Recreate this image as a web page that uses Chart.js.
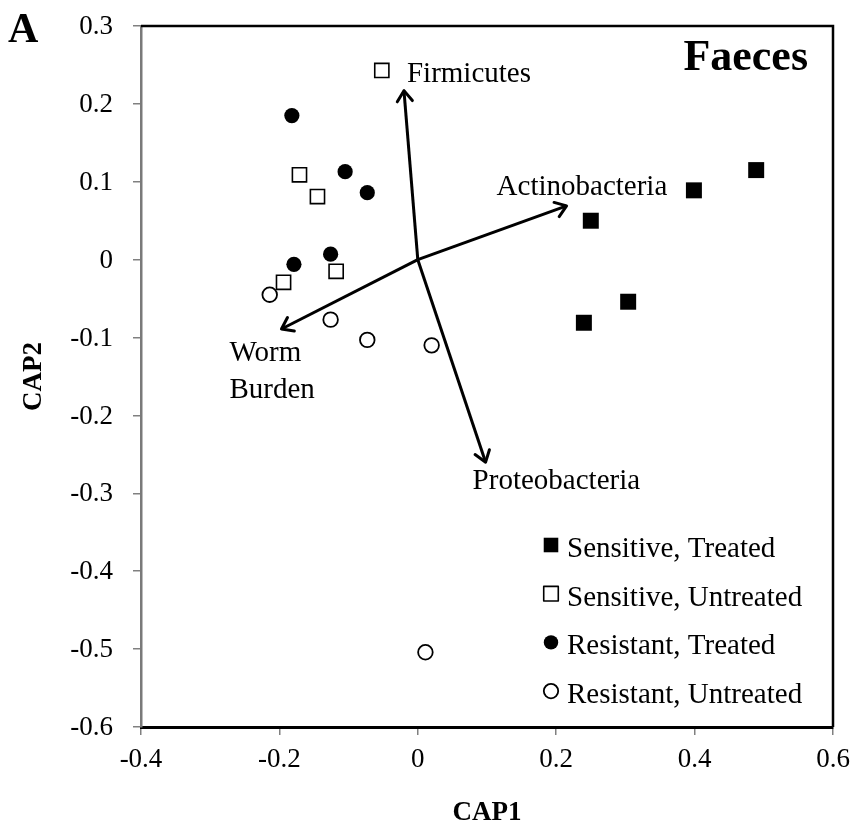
<!DOCTYPE html>
<html><head><meta charset="utf-8">
<script src="https://cdn.jsdelivr.net/npm/chart.js@4.4.1/dist/chart.umd.min.js"></script>
<style>html,body{margin:0;padding:0;background:#fff}#wrap{width:852px;height:827px}</style>
</head><body><div id="wrap"><canvas id="c" width="852" height="827"></canvas></div>
<script>
// ---- data ----
const xTicks = [-0.4, -0.2, 0, 0.2, 0.4, 0.6];
const xTickLabels = ['-0.4', '-0.2', '0', '0.2', '0.4', '0.6'];
const yTicks = [-0.6, -0.5, -0.4, -0.3, -0.2, -0.1, 0, 0.1, 0.2, 0.3];
const yTickLabels = ['-0.6', '-0.5', '-0.4', '-0.3', '-0.2', '-0.1', '0', '0.1', '0.2', '0.3'];
const groupNames = ['Sensitive, Treated', 'Sensitive, Untreated', 'Resistant, Treated', 'Resistant, Untreated'];

const sensTreatedX = [0.250, 0.399, 0.489, 0.304, 0.240];
const sensTreatedY = [0.050, 0.089, 0.115, -0.054, -0.081];
const sensUntreatedX = [-0.052, -0.171, -0.145, -0.118, -0.194];
const sensUntreatedY = [0.243, 0.109, 0.081, -0.015, -0.029];
const resTreatedX = [-0.182, -0.105, -0.073, -0.126, -0.179];
const resTreatedY = [0.185, 0.113, 0.086, 0.007, -0.006];
const resUntreatedX = [-0.214, -0.126, -0.073, 0.020, 0.011];
const resUntreatedY = [-0.045, -0.077, -0.103, -0.110, -0.504];

const arrowNames = ['Firmicutes', 'Actinobacteria', 'Worm Burden', 'Proteobacteria'];
const arrowTipX = [-0.020, 0.215, -0.197, 0.098];
const arrowTipY = [0.217, 0.069, -0.089, -0.260];

const panelLetter = 'A';
const panelTitle = 'Faeces';
const xTitle = 'CAP1';
const yTitle = 'CAP2';

// ---- build ----
const zip = (xs, ys) => xs.map((x, i) => ({x, y: ys[i]}));
const FONT = "'Liberation Serif', 'Times New Roman', serif";

const groupStyles = [
  {pointStyle: 'rect', radius: 11.3, bg: '#000', border: '#000', bw: 0},
  {pointStyle: 'rect', radius: 10.0, bg: '#fff', border: '#000', bw: 1.6},
  {pointStyle: 'circle', radius: 7.6, bg: '#000', border: '#000', bw: 0},
  {pointStyle: 'circle', radius: 7.3, bg: '#fff', border: '#000', bw: 1.8}
];
const groupData = [
  zip(sensTreatedX, sensTreatedY),
  zip(sensUntreatedX, sensUntreatedY),
  zip(resTreatedX, resTreatedY),
  zip(resUntreatedX, resUntreatedY)
];

const datasets = [];
arrowNames.forEach((name, i) => {
  datasets.push({
    type: 'line', label: name, isArrow: true,
    data: [{x: 0, y: 0}, {x: arrowTipX[i], y: arrowTipY[i]}],
    showLine: true, borderColor: '#000', borderWidth: 3, pointRadius: 0,
    fill: false, tension: 0, order: 2
  });
});
groupNames.forEach((name, i) => {
  const s = groupStyles[i];
  datasets.push({
    type: 'scatter', label: name, data: groupData[i],
    pointStyle: s.pointStyle, pointRadius: s.radius, pointHoverRadius: s.radius,
    backgroundColor: s.bg, borderColor: s.border, borderWidth: s.bw, order: 1
  });
});

const arrowLabelOffsets = [
  [{dx: 3, dy: -9}],
  [{dx: -70, dy: -11}],
  [{dx: -52, dy: 32}, {dx: -52, dy: 69}],
  [{dx: -13, dy: 27}]
];

const decor = {
  id: 'decor',
  afterDatasetsDraw(chart) {
    const {ctx, chartArea: ca, scales: {x, y}} = chart;
    ctx.save();
    // top & right frame
    ctx.strokeStyle = '#000';
    ctx.lineWidth = 2.5;
    ctx.beginPath();
    ctx.moveTo(ca.left, ca.top);
    ctx.lineTo(ca.right, ca.top);
    ctx.lineTo(ca.right, ca.bottom);
    ctx.stroke();

    // arrow heads + labels
    ctx.lineWidth = 3;
    ctx.lineCap = 'round';
    ctx.lineJoin = 'round';
    ctx.fillStyle = '#000';
    ctx.font = '29px ' + FONT;
    ctx.textBaseline = 'alphabetic';
    ctx.textAlign = 'left';
    arrowNames.forEach((name, i) => {
      const x0 = x.getPixelForValue(0), y0 = y.getPixelForValue(0);
      const x1 = x.getPixelForValue(arrowTipX[i]), y1 = y.getPixelForValue(arrowTipY[i]);
      const ang = Math.atan2(y1 - y0, x1 - x0);
      const L = 13, a = 0.62;
      ctx.beginPath();
      ctx.moveTo(x1 - L * Math.cos(ang - a), y1 - L * Math.sin(ang - a));
      ctx.lineTo(x1, y1);
      ctx.lineTo(x1 - L * Math.cos(ang + a), y1 - L * Math.sin(ang + a));
      ctx.stroke();
      const parts = name === 'Worm Burden' ? ['Worm', 'Burden'] : [name];
      parts.forEach((t, k) => {
        const o = arrowLabelOffsets[i][k];
        ctx.fillText(t, x1 + o.dx, y1 + o.dy);
      });
    });

    // panel title
    ctx.font = 'bold 44px ' + FONT;
    ctx.textAlign = 'right';
    ctx.fillText(panelTitle, ca.right - 25, ca.top + 44);
    ctx.textAlign = 'left';
    ctx.font = 'bold 42px ' + FONT;
    ctx.fillText(panelLetter, 8, 42);

    // legend
    const lx = ca.right - 282, ly0 = ca.bottom - 182, step = 48.7;
    ctx.font = '29px ' + FONT;
    groupNames.forEach((name, i) => {
      const s = groupStyles[i];
      const cy = ly0 + i * step;
      ctx.fillStyle = s.bg;
      ctx.strokeStyle = s.border;
      ctx.lineWidth = s.bw || 0;
      Chart.helpers.drawPoint(ctx, {pointStyle: s.pointStyle, radius: s.pointStyle === 'rect' ? 10.3 : 7.2, borderWidth: s.bw, rotation: 0}, lx, cy);
      ctx.fillStyle = '#000';
      ctx.fillText(name, lx + 16, cy + 12);
    });
    ctx.restore();
  }
};

new Chart(document.getElementById('c'), {
  type: 'scatter',
  data: {datasets},
  options: {
    responsive: false,
    animation: false,
    devicePixelRatio: 1,
    layout: {padding: {top: 26, right: 19, left: 0, bottom: 0}},
    plugins: {legend: {display: false}, tooltip: {enabled: false}},
    scales: {
      x: {
        type: 'linear', min: -0.4, max: 0.6,
        afterBuildTicks: s => { s.ticks = xTicks.map(v => ({value: v})); },
        afterFit: s => { s.height = 100; s.paddingLeft = 0; s.paddingRight = 0; s.paddingTop = 0; s.paddingBottom = 0; },
        ticks: {
          callback: (v) => xTickLabels[xTicks.findIndex(t => Math.abs(t - v) < 1e-9)],
          font: {family: FONT, size: 27}, color: '#000', padding: 9, maxRotation: 0, autoSkip: false
        },
        grid: {drawOnChartArea: false, drawTicks: true, tickLength: 8, color: '#808080', lineWidth: 1.5},
        border: {display: true, color: '#000', width: 3},
        title: {display: true, text: xTitle, font: {family: FONT, size: 27, weight: 'bold', lineHeight: 1}, color: '#000', padding: {top: 0, bottom: 0}}
      },
      y: {
        type: 'linear', min: -0.6, max: 0.3,
        afterBuildTicks: s => { s.ticks = yTicks.map(v => ({value: v})); },
        afterFit: s => { s.width = 141; s.paddingLeft = 0; s.paddingRight = 0; s.paddingTop = 0; s.paddingBottom = 0; },
        ticks: {
          callback: (v) => yTickLabels[yTicks.findIndex(t => Math.abs(t - v) < 1e-9)],
          font: {family: FONT, size: 27}, color: '#000', padding: 20, labelOffset: 1, autoSkip: false
        },
        grid: {drawOnChartArea: false, drawTicks: true, tickLength: 8, color: '#808080', lineWidth: 1.5},
        border: {display: true, color: '#7a7a7a', width: 2.5},
        title: {display: true, text: yTitle, font: {family: FONT, size: 27, weight: 'bold', lineHeight: 1}, color: '#000', padding: {top: 20.5, bottom: 0}}
      }
    }
  },
  plugins: [decor]
});
</script>
</body></html>
